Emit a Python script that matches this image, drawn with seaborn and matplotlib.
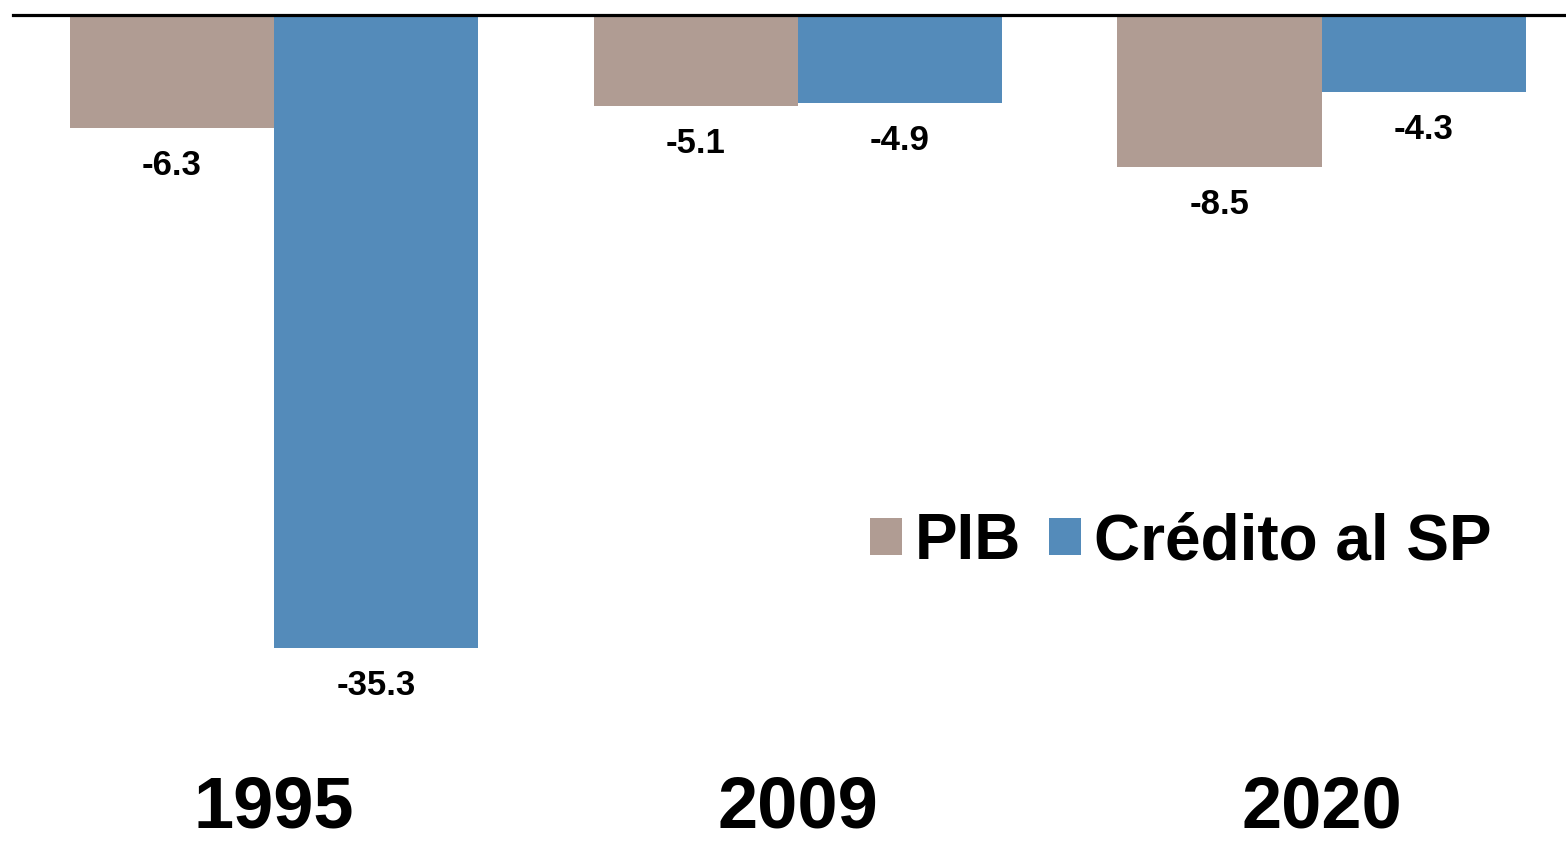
import matplotlib
matplotlib.use("Agg")
import matplotlib.pyplot as plt
import pandas as pd
import seaborn as sns

years = ["1995", "2009", "2020"]
pib = [-6.3, -5.1, -8.5]
credito = [-35.3, -4.9, -4.3]
series_names = ["PIB", "Crédito al SP"]
colors = ["#B09C93", "#548BBA"]

df = pd.DataFrame({
    "year": years * 2,
    "value": pib + credito,
    "serie": [series_names[0]] * 3 + [series_names[1]] * 3,
})

sns.set_style("white")
plt.rcParams["font.family"] = ["Liberation Sans", "DejaVu Sans"]
plt.rcParams["font.weight"] = "bold"
plt.rcParams["text.color"] = "black"
plt.rcParams["xtick.color"] = "black"

fig = plt.figure(figsize=(15.66, 8.47), dpi=100)
ax = fig.add_axes([13 / 1566, 1 - 770 / 847, 1 - 13 / 1566, (770 - 15) / 847])

sns.barplot(data=df, x="year", y="value", hue="serie", palette=colors,
            width=0.78, saturation=1, linewidth=0, ax=ax)

for cont in ax.containers:
    ax.bar_label(cont, fmt="%.1f", padding=15, fontsize=25, fontweight="bold", color="black")

ax.set_ylim(-42.1, 0)
ax.set_xlim(-0.498, 2.466)
ax.set_yticks([])
ax.set_xlabel("")
ax.set_ylabel("")
ax.tick_params(axis="x", length=0, pad=3.5, labelsize=52, labelcolor="black")
for lab in ax.get_xticklabels():
    lab.set_fontweight("bold")

for side in ["left", "right", "bottom"]:
    ax.spines[side].set_visible(False)
ax.spines["top"].set_visible(True)
ax.spines["top"].set_color("black")
ax.spines["top"].set_linewidth(2.3)

ax.legend_.remove()
handles, labels = ax.get_legend_handles_labels()
fig.legend(handles, labels, loc="center left", bbox_to_anchor=(870 / 1566, 1 - 542 / 847),
           bbox_transform=fig.transFigure, ncol=2, frameon=False,
           prop={"size": 46, "weight": "bold"}, handlelength=0.5, handleheight=0.5,
           handletextpad=0.2, columnspacing=0.44, borderpad=0, borderaxespad=0)

fig.savefig("out.png", dpi=100)
